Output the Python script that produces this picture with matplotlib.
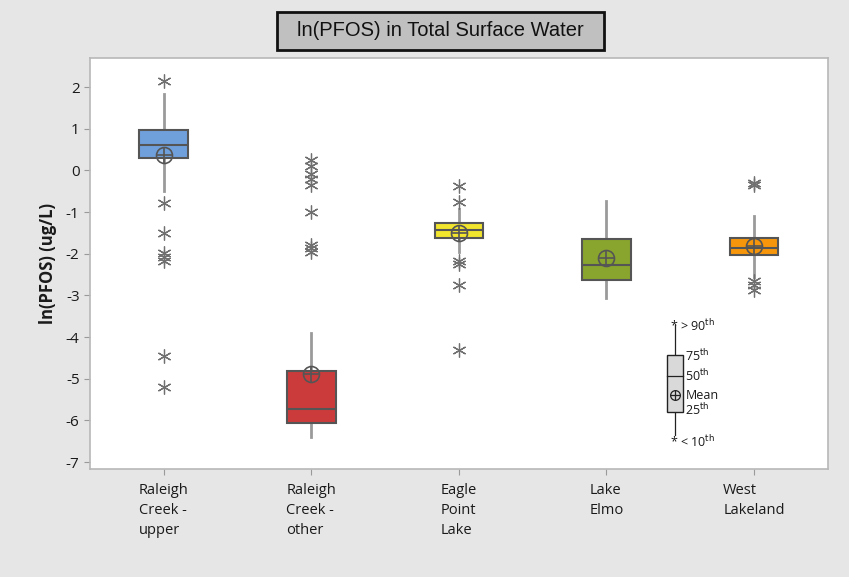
import matplotlib
matplotlib.use("Agg")
import matplotlib.pyplot as plt
from matplotlib.patches import Rectangle

# ---- data ----
sites = ["Raleigh\nCreek -\nupper", "Raleigh\nCreek -\nother", "Eagle\nPoint\nLake", "Lake\nElmo", "West\nLakeland"]
q1 = [0.29, -6.07, -1.62, -2.62, -2.02]
med = [0.62, -5.72, -1.42, -2.26, -1.86]
q3 = [0.98, -4.82, -1.26, -1.64, -1.62]
whis_lo = [-0.50, -6.40, -1.96, -3.06, -2.56]
whis_hi = [1.84, -3.90, -0.92, -0.74, -1.10]
means = [0.38, -4.88, -1.50, -2.10, -1.82]
fliers = [
    [2.14, -0.78, -1.49, -1.98, -2.08, -2.18, -4.46, -5.20],
    [0.24, 0.10, -0.08, -0.20, -0.36, -1.00, -1.78, -1.85, -1.95],
    [-0.38, -0.76, -2.18, -2.24, -2.74, -4.30],
    [],
    [-0.30, -0.34, -2.66, -2.76, -2.86],
]
colors = ["#6fa0dc", "#cc3b3b", "#f2e52e", "#8aa52d", "#f7960b"]

plt.rcParams['font.family'] = ['Open Sans', 'DejaVu Sans']
plt.rcParams['axes.unicode_minus'] = False

fig = plt.figure(figsize=(8.49, 5.77), dpi=100, facecolor="#e6e6e6")
ax = fig.add_axes([0.106, 0.187, 0.869, 0.7125])
ax.set_facecolor("white")

stats = []
for i in range(len(sites)):
    stats.append(dict(med=med[i], q1=q1[i], q3=q3[i], whislo=whis_lo[i],
                      whishi=whis_hi[i], mean=means[i], fliers=fliers[i], label=sites[i]))

pos = list(range(1, len(sites) + 1))
bp = ax.bxp(stats, positions=pos, widths=0.33, patch_artist=True, showcaps=False,
            showmeans=False,
            boxprops=dict(edgecolor="#555555", linewidth=1.5),
            medianprops=dict(color="#555555", linewidth=1.5),
            whiskerprops=dict(color="#9a9a9a", linewidth=2),
            flierprops=dict(marker=(6, 2, 0), markersize=10, markeredgecolor="#707070",
                            markerfacecolor="none", markeredgewidth=0.9, linestyle="none"))
for patch, c in zip(bp["boxes"], colors):
    patch.set_facecolor(c)
    patch.set_zorder(2)
for w in bp["whiskers"]:
    w.set_zorder(1)

# mean symbol (circle with plus)
ax.plot(pos, means, linestyle="none", marker="o", markersize=11.5, markerfacecolor="none",
        markeredgecolor="#555555", markeredgewidth=1.2, zorder=4)
ax.plot(pos, means, linestyle="none", marker="+", markersize=11.5,
        markeredgecolor="#555555", markeredgewidth=1.2, zorder=4)

ax.set_xlim(0.5, 5.5)
ax.set_ylim(-7.17, 2.7)
ax.set_yticks(range(-7, 3))
ax.set_xticks(pos)
ax.set_xticklabels(sites, multialignment="left", linespacing=1.45, fontsize=10.5,
                   color="#1a1a1a")
ax.tick_params(axis="y", labelsize=11, colors="#9a9a9a", labelcolor="#1a1a1a", length=4)
ax.tick_params(axis="x", colors="#9a9a9a", labelcolor="#1a1a1a", length=4, pad=6)
for s in ax.spines.values():
    s.set_color("#b8b8b8")
    s.set_linewidth(1.2)
ax.set_ylabel("ln(PFOS) (ug/L)", fontsize=12, fontweight="bold", color="#1a1a1a", labelpad=6)

# key for the box symbols
kx, kw = 4.465, 0.108
ax.plot([kx, kx], [-3.72, -4.44], color="#222222", lw=0.9, zorder=3)
ax.plot([kx, kx], [-5.81, -6.36], color="#222222", lw=0.9, zorder=3)
ax.add_patch(Rectangle((kx - kw / 2, -5.81), kw, 5.81 - 4.44, facecolor="#d9d9d9",
                       edgecolor="#222222", lw=1, zorder=3))
ax.plot([kx - kw / 2, kx + kw / 2], [-4.94, -4.94], color="#222222", lw=0.9, zorder=4)
ax.plot([kx], [-5.40], marker="o", markersize=7, markerfacecolor="none",
        markeredgecolor="#222222", markeredgewidth=0.9, zorder=5)
ax.plot([kx], [-5.40], marker="+", markersize=7, markeredgecolor="#222222",
        markeredgewidth=0.9, zorder=5)
kt = dict(fontsize=9, color="#1a1a1a", va="center", ha="left")
ax.text(kx - 0.035, -3.74, r"* > 90$^{\mathrm{th}}$", **kt)
ax.text(kx + 0.07, -4.46, r"75$^{\mathrm{th}}$", **kt)
ax.text(kx + 0.07, -4.94, r"50$^{\mathrm{th}}$", **kt)
ax.text(kx + 0.07, -5.40, "Mean", **kt)
ax.text(kx + 0.07, -5.76, r"25$^{\mathrm{th}}$", **kt)
ax.text(kx - 0.035, -6.53, r"* < 10$^{\mathrm{th}}$", **kt)

# title in a grey framed box
fig.patches.append(Rectangle((277 / 849, 1 - 50 / 577), 327 / 849, 38 / 577,
                             transform=fig.transFigure, facecolor="#c0c0c0",
                             edgecolor="#111111", linewidth=2))
fig.text(440.5 / 849, 1 - 31 / 577, "ln(PFOS) in Total Surface Water", ha="center",
         va="center", fontsize=14.5,
         family=["Liberation Sans Narrow", "Liberation Sans", "DejaVu Sans"],
         color="#111111")

fig.savefig("out.png", dpi=100, facecolor=fig.get_facecolor())
